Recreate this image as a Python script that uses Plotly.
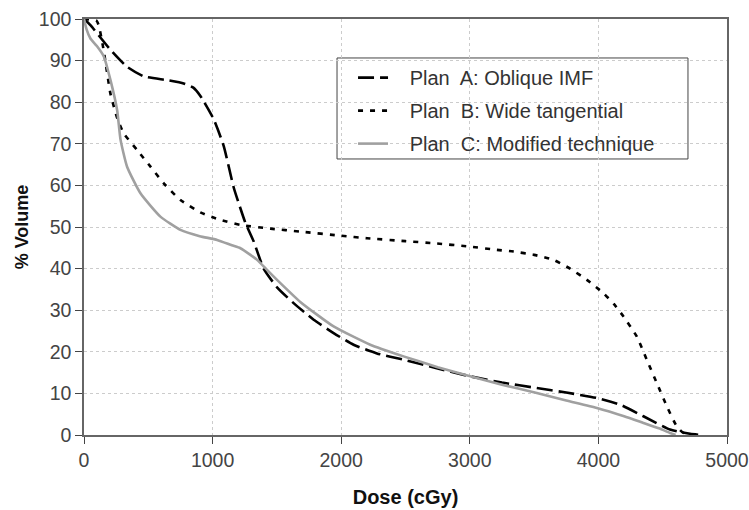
import plotly.graph_objects as go

plan_a_dose = [0, 50, 200, 335, 465, 646, 775, 850, 905, 1007, 1086, 1164, 1216, 1255, 1320, 1397, 1501, 1630, 1786, 1941, 2096, 2278, 2485, 2750, 3003, 3250, 3521, 3750, 3988, 4169, 4350, 4557, 4713, 4800]
plan_a_vol = [100, 98.5, 92.8, 88.5, 86.2, 85.3, 84.5, 83.5, 81.5, 76, 69.5, 59.5, 54.5, 51, 46.5, 40, 35.5, 31.7, 27.7, 24.5, 21.7, 19.6, 18.1, 16, 14.1, 12.6, 11.3, 10.2, 8.9, 7.3, 4.5, 1.3, 0.3, 0]

plan_b_dose = [0, 100, 150, 206, 260, 309, 413, 517, 620, 750, 905, 1061, 1216, 1450, 1682, 2000, 2200, 2500, 2718, 3000, 3210, 3340, 3500, 3650, 3780, 3910, 4039, 4120, 4195, 4298, 4376, 4454, 4532, 4609, 4661, 4750]
plan_b_vol = [100, 99.5, 93, 82, 76, 72.5, 68.5, 64.5, 60.5, 56.5, 53.5, 51.7, 50.5, 49.6, 48.9, 47.9, 47.3, 46.6, 46.1, 45.3, 44.5, 44.1, 43.3, 42.1, 40, 37.3, 34.1, 31.5, 28.5, 23.7, 18.1, 12.5, 6.9, 2.1, 0.5, 0]

plan_c_dose = [0, 20, 50, 100, 154, 206, 258, 284, 335, 439, 594, 750, 900, 1035, 1150, 1216, 1294, 1346, 1423, 1501, 1682, 1941, 2226, 2485, 2750, 3003, 3250, 3521, 3750, 3988, 4200, 4350, 4470, 4557, 4600]
plan_c_vol = [100, 97.5, 95.3, 93.5, 91, 85.3, 78, 71, 64.5, 58.1, 52.5, 49.3, 47.8, 46.9, 45.6, 44.9, 43.3, 42.1, 39.7, 37.3, 32, 26.1, 21.7, 18.9, 16.3, 14.1, 12.1, 10.1, 8.3, 6.5, 4.5, 2.9, 1.6, 0.5, 0]

pad = "\u00a0\u00a0\u00a0"
names = [pad + "Plan\u00a0 A: Oblique IMF", pad + "Plan\u00a0 B: Wide tangential", pad + "Plan\u00a0 C: Modified technique"]

fig = go.Figure()
fig.add_trace(go.Scatter(x=plan_a_dose, y=plan_a_vol, mode="lines", name=names[0], legendgroup="a",
                         line=dict(color="black", width=2.6, dash="16px,6px", shape="spline", smoothing=0.5)))
fig.add_trace(go.Scatter(x=plan_b_dose, y=plan_b_vol, mode="lines", name=names[1], legendgroup="b",
                         line=dict(color="black", width=2.6, dash="5px,7px", shape="spline", smoothing=0.5)))
fig.add_trace(go.Scatter(x=plan_c_dose, y=plan_c_vol, mode="lines", name=names[2], legendgroup="c",
                         line=dict(color="#a0a0a0", width=2.6, shape="spline", smoothing=0.5)))

# legend frame
fig.add_shape(type="rect", xref="paper", yref="paper", x0=0.3935, x1=0.9393, y0=0.6635, y1=0.9063,
              line=dict(color="#444", width=1), fillcolor="white", layer="between")

tickfont = dict(family="Liberation Sans, Arial", size=19.5, color="#444")
fig.update_layout(
    width=749, height=510,
    margin=dict(l=84, r=22, t=19, b=75),
    paper_bgcolor="white", plot_bgcolor="white",
    showlegend=True,
    legend=dict(x=0.4184, y=0.906, xanchor="left", yanchor="top",
                borderwidth=0, bgcolor="rgba(0,0,0,0)",
                font=dict(family="Liberation Sans, Arial", size=20, color="#333"),
                tracegroupgap=4),
    xaxis=dict(range=[0, 5000], tickvals=[0, 1000, 2000, 3000, 4000, 5000],
               showgrid=True, gridcolor="#cccccc", griddash="dot", gridwidth=1,
               showline=True, linecolor="#666", linewidth=1.5, mirror=True,
               ticks="outside", ticklen=7, tickcolor="#444", tickfont=tickfont,
               zeroline=False, automargin=False, ticklabeloverflow="allow",
               title=dict(text="<b>Dose (cGy)</b>", font=dict(family="Liberation Sans, Arial", size=20, color="#111"), standoff=20)),
    yaxis=dict(range=[0, 100], tickvals=list(range(0, 101, 10)),
               showgrid=True, gridcolor="#cccccc", griddash="dot", gridwidth=1,
               showline=True, linecolor="#666", linewidth=1.5, mirror=True,
               ticks="outside", ticklen=7, tickcolor="#444", tickfont=tickfont,
               zeroline=False, automargin=False, ticklabeloverflow="allow",
               title=dict(text="<b>% Volume</b>", font=dict(family="Liberation Sans, Arial", size=18, color="#111"), standoff=6)),
)

fig.write_html("out.html", config={"displayModeBar": False},
               post_script="document.body.style.margin='0';document.body.style.overflow='hidden';")
